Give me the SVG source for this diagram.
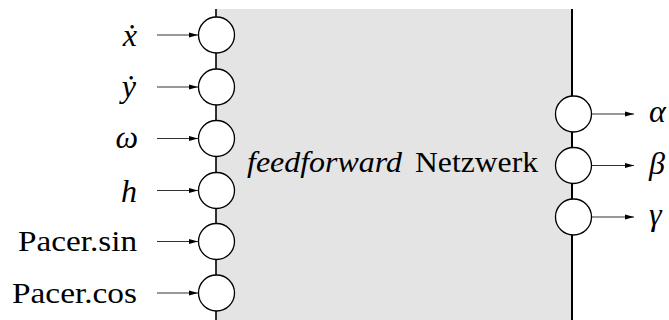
<svg xmlns="http://www.w3.org/2000/svg" width="669" height="320" viewBox="0 0 669 320">
  <defs>
    <marker id="arrow" markerWidth="9" markerHeight="6" refX="9" refY="3" orient="auto" markerUnits="userSpaceOnUse">
      <path d="M0,0.6 L9,3 L0,5.4 Z" fill="#000"/>
    </marker>
  </defs>
  <style>
    .unit { fill: #fff; stroke: #000; stroke-width: 1.3; }
    .edge { stroke: #333; stroke-width: 1.2; fill: none; marker-end: url(#arrow); }
    text { font-family: 'Liberation Serif', 'DejaVu Serif', serif; fill: #000; }
    .txt { font-size: 30px; }
    .math { font-size: 32px; font-style: italic; }
  </style>

  <!-- network body -->
  <g id="network">
    <rect x="216" y="9" width="356" height="311" fill="#e4e4e4"/>
    <line x1="216" y1="9" x2="216" y2="320" stroke="#000" stroke-width="1.6"/>
    <line x1="572" y1="9" x2="572" y2="320" stroke="#000" stroke-width="2"/>
    <text class="txt" x="247" y="172" font-style="italic" textLength="155" lengthAdjust="spacingAndGlyphs">feedforward</text>
    <text class="txt" x="415" y="172" textLength="123" lengthAdjust="spacingAndGlyphs">Netzwerk</text>
  </g>

  <!-- connectors -->
  <g id="connectors">
    <line class="edge" x1="157" y1="35" x2="198" y2="35"/>
    <line class="edge" x1="157" y1="87" x2="198" y2="87"/>
    <line class="edge" x1="157" y1="138.5" x2="198" y2="138.5"/>
    <line class="edge" x1="157" y1="190.5" x2="198" y2="190.5"/>
    <line class="edge" x1="157" y1="241.5" x2="198" y2="241.5"/>
    <line class="edge" x1="157" y1="293" x2="198" y2="293"/>
    <line class="edge" x1="591" y1="114" x2="634" y2="114"/>
    <line class="edge" x1="591" y1="165.5" x2="634" y2="165.5"/>
    <line class="edge" x1="591" y1="217" x2="634" y2="217"/>
  </g>

  <!-- input units -->
  <g id="in-xdot">
    <circle class="unit" cx="216.5" cy="35" r="18"/>
    <text class="math" x="137" y="46" text-anchor="end">ẋ</text>
  </g>
  <g id="in-ydot">
    <circle class="unit" cx="216.5" cy="87" r="18"/>
    <text class="math" x="136" y="97" text-anchor="end">ẏ</text>
  </g>
  <g id="in-omega">
    <circle class="unit" cx="216.5" cy="138.5" r="18"/>
    <text class="math" x="138" y="148" text-anchor="end">ω</text>
  </g>
  <g id="in-h">
    <circle class="unit" cx="216.5" cy="190.5" r="18"/>
    <text class="math" x="137" y="202" text-anchor="end">h</text>
  </g>
  <g id="in-pacer-sin">
    <circle class="unit" cx="216.5" cy="241.5" r="18"/>
    <text class="txt" x="18" y="251" textLength="119" lengthAdjust="spacingAndGlyphs">Pacer.sin</text>
  </g>
  <g id="in-pacer-cos">
    <circle class="unit" cx="216.5" cy="293" r="18"/>
    <text class="txt" x="12" y="303" textLength="125" lengthAdjust="spacingAndGlyphs">Pacer.cos</text>
  </g>

  <!-- output units -->
  <g id="out-alpha">
    <circle class="unit" cx="573.5" cy="114" r="18"/>
    <text class="math" x="649" y="122">α</text>
  </g>
  <g id="out-beta">
    <circle class="unit" cx="573.5" cy="165.5" r="18"/>
    <text class="math" x="649" y="174">β</text>
  </g>
  <g id="out-gamma">
    <circle class="unit" cx="573.5" cy="217" r="18"/>
    <text class="math" x="649" y="225">γ</text>
  </g>
</svg>
